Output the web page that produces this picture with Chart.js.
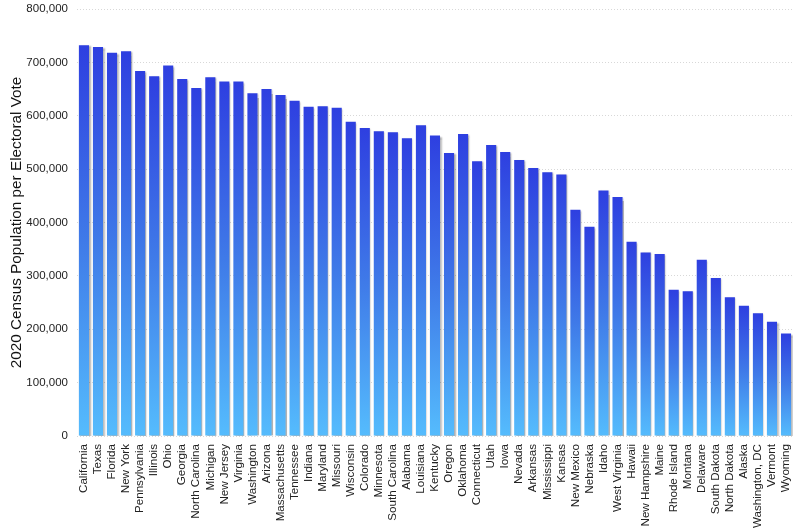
<!DOCTYPE html>
<html>
<head>
<meta charset="utf-8">
<script src="https://cdn.jsdelivr.net/npm/chart.js@4"></script>
<style>
html,body{margin:0;padding:0;background:#fff;}
#wrap{width:800px;height:531px;position:relative;}
</style>
</head>
<body>
<div id="wrap"><canvas id="c"></canvas></div>
<script>
const states = ["California","Texas","Florida","New York","Pennsylvania","Illinois","Ohio","Georgia","North Carolina","Michigan","New Jersey","Virginia","Washington","Arizona","Massachusetts","Tennessee","Indiana","Maryland","Missouri","Wisconsin","Colorado","Minnesota","South Carolina","Alabama","Louisiana","Kentucky","Oregon","Oklahoma","Connecticut","Utah","Iowa","Nevada","Arkansas","Mississippi","Kansas","New Mexico","Nebraska","Idaho","West Virginia","Hawaii","New Hampshire","Maine","Rhode Island","Montana","Delaware","South Dakota","North Dakota","Alaska","Washington, DC","Vermont","Wyoming"];
const popPerVote = [732000,729000,718000,721000,684000,674000,694000,669000,652000,672000,664000,664000,642000,650000,639000,628000,617000,618000,615000,589000,577000,571000,569000,558000,582000,563000,530000,566000,515000,545000,532000,517000,502000,494000,490000,424000,392000,460000,448000,364000,344000,341000,274000,271000,330000,296000,260000,244000,230000,214000,192000];
const yTicks = [0,100000,200000,300000,400000,500000,600000,700000,800000];
const yTitle = "2020 Census Population per Electoral Vote";

const shadowPlugin = {
  id:'barShadow',
  beforeDatasetsDraw(chart){
    const c = chart.ctx; c.save();
    c.shadowColor='rgba(0,0,0,0.3)'; c.shadowOffsetX=1.5; c.shadowOffsetY=1; c.shadowBlur=1.5;
  },
  afterDatasetsDraw(chart){ chart.ctx.restore(); }
};

const FONT = '"Liberation Sans", Arial, Helvetica, sans-serif';

new Chart(document.getElementById('c'), {
  type:'bar',
  data:{
    labels: states,
    datasets:[{
      data: popPerVote,
      backgroundColor(ctx){
        const chart = ctx.chart; const area = chart.chartArea;
        if(!area) return '#3a6ee6';
        const top = chart.scales.y.getPixelForValue(ctx.raw);
        const bottom = chart.scales.y.getPixelForValue(0);
        const g = chart.ctx.createLinearGradient(0, top, 0, bottom);
        g.addColorStop(0,'#2e3fe0');
        g.addColorStop(0.5,'#3f7ae8');
        g.addColorStop(1,'#55bcfd');
        return g;
      },
      borderWidth:0,
      barPercentage:0.9,
      categoryPercentage:0.8
    }]
  },
  options:{
    responsive:true, maintainAspectRatio:false, animation:false,
    devicePixelRatio:1,
    layout:{padding:{left:8,right:6,top:0,bottom:3}},
    plugins:{legend:{display:false}, tooltip:{enabled:false}},
    scales:{
      x:{
        grid:{display:false},
        border:{display:false},
        ticks:{autoSkip:false, maxRotation:90, minRotation:90, color:'#222', font:{family:FONT, size:11.6}, padding:0}
      },
      y:{
        min:0, max:800000,
        afterBuildTicks(axis){ axis.ticks = yTicks.map(v=>({value:v})); },
        afterFit(axis){ axis.paddingTop = 9; },
        grid:{color:'#d8d8d8', drawTicks:false, lineWidth:1},
        border:{display:false, dash:[1,2]},
        ticks:{color:'#222', padding:9, font:{family:FONT, size:11.5}, callback:v=>v.toLocaleString('en-US')},
        title:{display:true, text:yTitle, color:'#111', font:{family:FONT, size:15.3}, padding:{top:0,bottom:-9}}
      }
    }
  },
  plugins:[shadowPlugin]
});
</script>
</body>
</html>
